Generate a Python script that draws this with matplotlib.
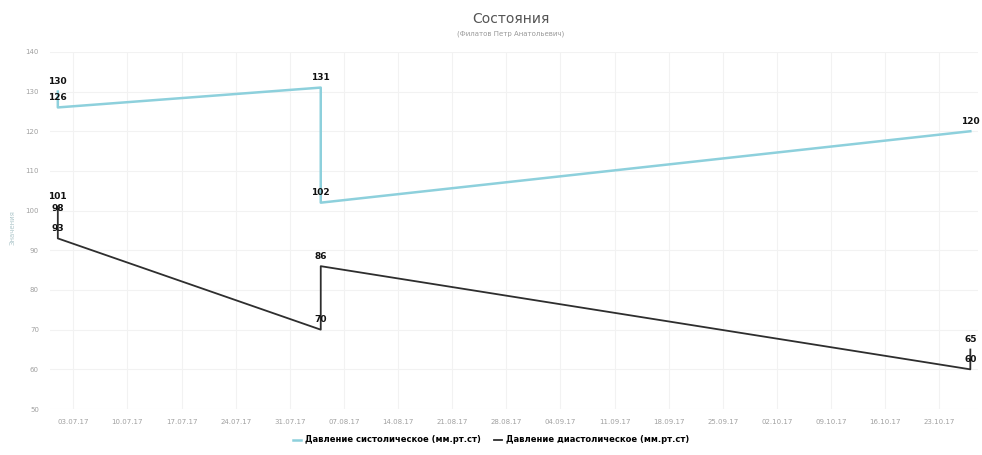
import matplotlib
matplotlib.use("Agg")
import matplotlib.pyplot as plt
import matplotlib.dates as mdates
import pandas as pd
from matplotlib.lines import Line2D

plt.rcParams['font.family'] = ['DejaVu Sans']

title = "Состояния"
subtitle = "(Филатов Петр Анатольевич)"
y_title = "Значения"

sys_dates = ["2017-07-01", "2017-07-01", "2017-08-04", "2017-08-04", "2017-10-27"]
sys_values = [130, 126, 131, 102, 120]
dia_dates = ["2017-07-01", "2017-07-01", "2017-07-01", "2017-08-04", "2017-08-04",
             "2017-10-27", "2017-10-27"]
dia_values = [101, 98, 93, 70, 86, 60, 65]
sys_name = "Давление систолическое (мм.рт.ст)"
dia_name = "Давление диастолическое (мм.рт.ст)"
y_ticks = [50, 60, 70, 80, 90, 100, 110, 120, 130, 140]
x_start, x_end = "2017-06-30", "2017-10-28"
x_tick_start, x_tick_end = "2017-07-03", "2017-10-23"

sys_x = pd.to_datetime(sys_dates)
dia_x = pd.to_datetime(dia_dates)

fig = plt.figure(figsize=(9.82, 4.55), dpi=100)
ax = fig.add_axes([0.051, 0.101, 0.945, 0.785])

c_sys = "#8dd0dc"
c_dia = "#2e2e2e"
ax.plot(sys_x, sys_values, color=c_sys, lw=1.8, zorder=3)
ax.plot(dia_x, dia_values, color=c_dia, lw=1.3, zorder=3)

for xs, vs in ((sys_x, sys_values), (dia_x, dia_values)):
    for xv, v in zip(xs, vs):
        ax.annotate(str(v), (xv, v), xytext=(0, 4), textcoords="offset points",
                    ha="center", va="bottom", fontsize=6.5, fontweight="bold",
                    color="#111111", zorder=5)

ax.set_ylim(50, 140)
ax.set_yticks(y_ticks)
ax.set_xlim(pd.Timestamp(x_start), pd.Timestamp(x_end))
xt = pd.date_range(x_tick_start, x_tick_end, freq="7D")
ax.set_xticks(xt)
ax.xaxis.set_major_formatter(mdates.DateFormatter("%d.%m.%y"))
ax.tick_params(axis="both", length=0, labelsize=5, labelcolor="#a0a0a0")
ax.tick_params(axis="x", pad=7)
ax.tick_params(axis="y", pad=8)
for s in ax.spines.values():
    s.set_visible(False)
ax.grid(True, color="#f2f2f2", lw=0.8, zorder=0)
ax.set_axisbelow(True)

fig.text(0.013, 0.50, y_title, rotation=90, ha="center", va="center",
         fontsize=5, color="#b0c8cc")

fig.text(0.52, 0.958, title, ha="center", va="center", fontsize=10, color="#555555")
fig.text(0.52, 0.926, subtitle, ha="center", va="center", fontsize=5, color="#999999")

handles = [Line2D([0], [0], color=c_sys, lw=1.8), Line2D([0], [0], color=c_dia, lw=1.3)]
fig.legend(handles, [sys_name, dia_name], loc="center", bbox_to_anchor=(0.5, 0.033),
           ncol=2, frameon=False, handlelength=1.0, columnspacing=1.5,
           handletextpad=0.5, prop={"weight": "bold", "size": 6})

fig.savefig("out.png", dpi=100)
